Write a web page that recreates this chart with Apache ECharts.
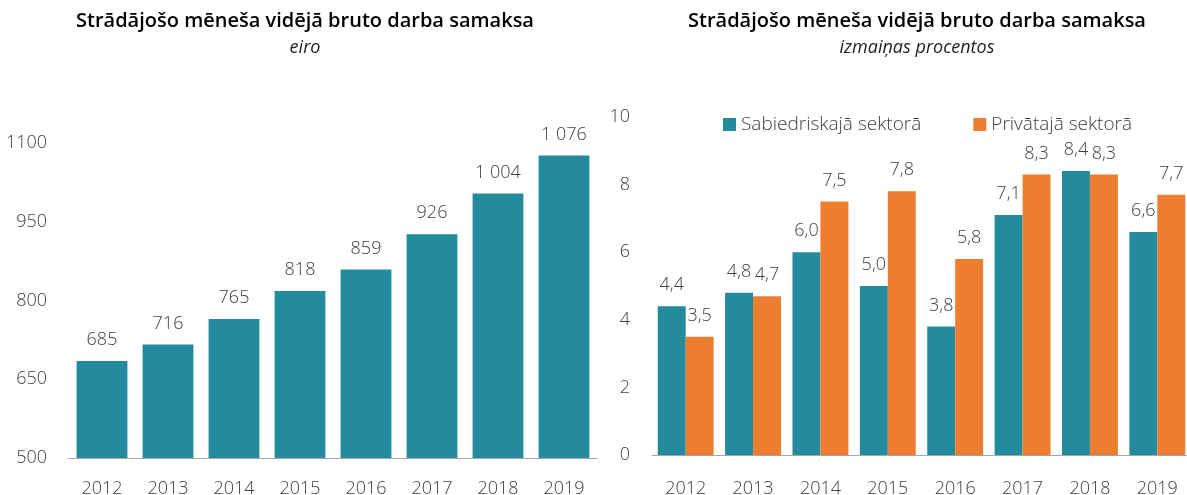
<!DOCTYPE html>
<html><head><meta charset="utf-8">
<script src="https://cdn.jsdelivr.net/npm/echarts@6/dist/echarts.min.js"></script>
<style>html,body{margin:0;padding:0;background:#fff}#c{width:1187px;height:495px}</style>
</head><body><div id="c"></div>
<script>
const years = ['2012','2013','2014','2015','2016','2017','2018','2019'];
const wages = [685, 716, 765, 818, 859, 926, 1004, 1076];
const publicSector = [4.4, 4.8, 6.0, 5.0, 3.8, 7.1, 8.4, 6.6];
const privateSector = [3.5, 4.7, 7.5, 7.8, 5.8, 8.3, 8.3, 7.7];
const titleText = 'Strādājošo mēneša vidējā bruto darba samaksa';
const teal = '#238b9d', orange = '#ed7d31', txt = '#404040';
const font = 'Open Sans';
const chart = echarts.init(document.getElementById('c'));
const fmtThousands = v => String(v).replace(/\B(?=(\d{3})+(?!\d))/g, '\u00a0');
const fmtComma = v => v.toFixed(1).replace('.', ',');
chart.setOption({
  animation: false,
  textStyle: {fontFamily: font},
  title: [
    {text: titleText, subtext: 'eiro', left: 300, top: 6, textAlign: 'center', itemGap: 8,
     textStyle: {fontSize: 20, fontWeight: 600, color: '#000', fontFamily: font},
     subtextStyle: {fontSize: 18, fontStyle: 'italic', color: '#222', fontFamily: font}},
    {text: titleText, subtext: 'izmaiņas procentos', left: 912, top: 6, textAlign: 'center', itemGap: 8,
     textStyle: {fontSize: 20, fontWeight: 600, color: '#000', fontFamily: font},
     subtextStyle: {fontSize: 18, fontStyle: 'italic', color: '#222', fontFamily: font}}
  ],
  legend: {left: 718, top: 110, itemWidth: 13, itemHeight: 13, itemGap: 52, icon: 'rect',
    textStyle: {fontSize: 19, color: txt, fontFamily: font, fontWeight: 300},
    data: ['Sabiedriskajā sektorā', 'Privātajā sektorā']},
  grid: [
    {left: 69, right: 590, top: 143, bottom: 37, outerBoundsMode: 'none', containLabel: false},
    {left: 652, right: -4, top: 117, bottom: 40, outerBoundsMode: 'none', containLabel: false}
  ],
  xAxis: [0,1].map(i => ({
    type: 'category', gridIndex: i, data: years,
    axisLine: {lineStyle: {color: '#a6a6a6'}},
    axisTick: {length: 8, lineStyle: {color: '#a6a6a6'}},
    axisLabel: {fontSize: 18, color: txt, margin: i === 0 ? 22 : 25, fontWeight: 300}
  })),
  yAxis: [
    {type: 'value', gridIndex: 0, min: 500, max: 1100, interval: 150, splitLine: {show: false},
     axisLine: {show: false}, axisTick: {show: false},
     axisLabel: {fontSize: 18, color: txt, margin: 22, fontWeight: 300, formatter: v => String(v)}},
    {type: 'value', gridIndex: 1, min: 0, max: 10, interval: 2, splitLine: {show: false},
     axisLine: {show: false}, axisTick: {show: false},
     axisLabel: {fontSize: 18, color: txt, margin: 22, fontWeight: 300, formatter: v => String(v)}}
  ],
  series: [
    {type: 'bar', xAxisIndex: 0, yAxisIndex: 0, data: wages, barCategoryGap: '23%',
     itemStyle: {color: teal},
     label: {show: true, position: 'top', distance: 12, fontSize: 18, color: txt, fontWeight: 300,
       formatter: p => fmtThousands(p.value)}},
    {name: 'Sabiedriskajā sektorā', type: 'bar', xAxisIndex: 1, yAxisIndex: 1, data: publicSector,
     barGap: '0%', barCategoryGap: '17%', itemStyle: {color: teal},
     label: {show: true, position: 'top', distance: 12, fontSize: 18, color: txt, fontWeight: 300,
       formatter: p => fmtComma(p.value)}},
    {name: 'Privātajā sektorā', type: 'bar', xAxisIndex: 1, yAxisIndex: 1, data: privateSector,
     barGap: '0%', barCategoryGap: '17%', itemStyle: {color: orange},
     label: {show: true, position: 'top', distance: 12, fontSize: 18, color: txt, fontWeight: 300,
       formatter: p => fmtComma(p.value)}}
  ]
});
</script></body></html>
